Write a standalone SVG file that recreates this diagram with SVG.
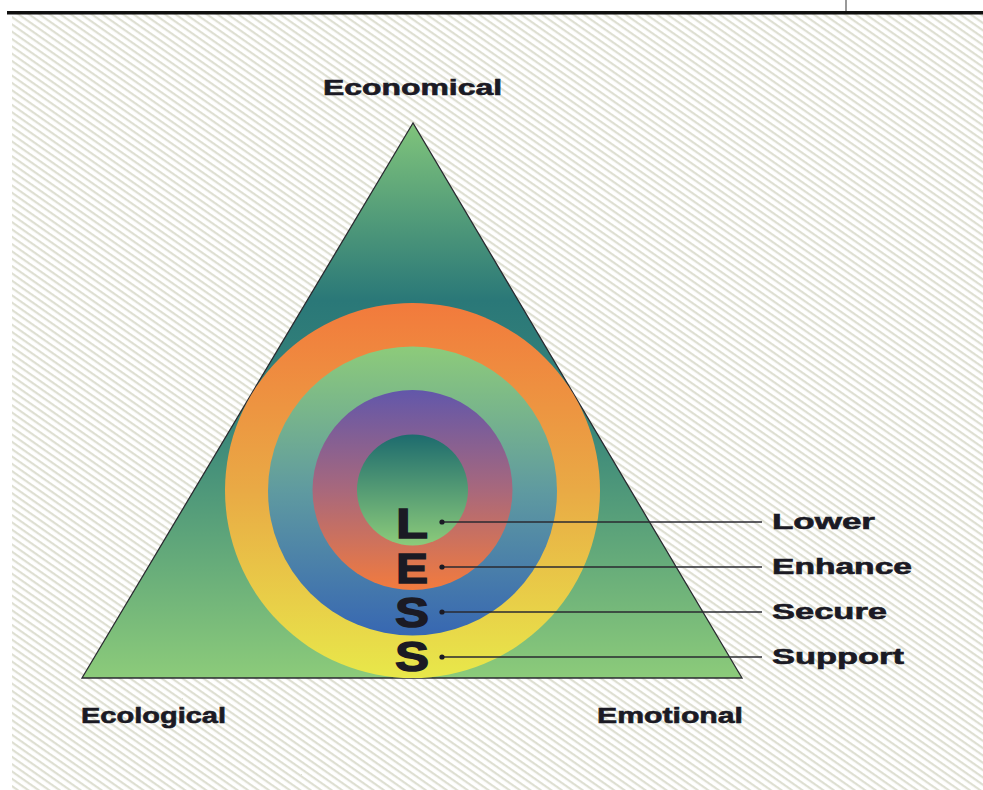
<svg xmlns="http://www.w3.org/2000/svg" width="983" height="790" viewBox="0 0 983 790">
<style>
.lbl{font-family:"Liberation Sans",Arial,sans-serif;font-weight:bold;font-size:22px;fill:#1b1a24;stroke:#1b1a24;stroke-width:0.6}
.big{font-family:"Liberation Sans",Arial,sans-serif;font-weight:bold;font-size:42px;fill:#1b1a24;stroke:#1b1a24;stroke-width:1.4;text-anchor:middle}
.lead{stroke:#2a2a30;stroke-width:1.3;fill:none}
.dot{fill:#1b1a24}
</style>
<defs>
<pattern id="hatch" width="6" height="6" patternUnits="userSpaceOnUse" patternTransform="rotate(35)">
<rect width="6" height="6" fill="#ffffff"/>
<rect x="0" y="0" width="6" height="2.2" fill="#dedfd2"/>
</pattern>
<linearGradient id="gTri" x1="0" y1="123" x2="0" y2="678" gradientUnits="userSpaceOnUse">
<stop offset="0" stop-color="#80c47b"/>
<stop offset="0.32" stop-color="#2a7878"/>
<stop offset="0.55" stop-color="#3a877a"/>
<stop offset="1" stop-color="#8ccb7a"/>
</linearGradient>
<linearGradient id="gR1" x1="0" y1="0" x2="0" y2="1">
<stop offset="0" stop-color="#f27a3c"/>
<stop offset="0.5" stop-color="#e9aa45"/>
<stop offset="1" stop-color="#e8e84a"/>
</linearGradient>
<linearGradient id="gR2" x1="0" y1="0" x2="0" y2="1">
<stop offset="0" stop-color="#8dcb7a"/>
<stop offset="0.5" stop-color="#5f9aa0"/>
<stop offset="1" stop-color="#3767b2"/>
</linearGradient>
<linearGradient id="gR3" x1="0" y1="0" x2="0" y2="1">
<stop offset="0" stop-color="#6257aa"/>
<stop offset="0.5" stop-color="#a8687c"/>
<stop offset="1" stop-color="#f27b3e"/>
</linearGradient>
<linearGradient id="gR4" x1="0" y1="0" x2="0" y2="1">
<stop offset="0" stop-color="#1d6b6e"/>
<stop offset="1" stop-color="#8ccb7a"/>
</linearGradient>
</defs>
<rect x="0" y="0" width="983" height="790" fill="#ffffff"/>
<rect x="12" y="14" width="971" height="776" fill="url(#hatch)"/>
<rect x="7" y="11" width="976" height="3.5" fill="#111111"/>
<line x1="846" y1="0" x2="846" y2="11" stroke="#777777" stroke-width="1.5"/>

<g id="triangle">
<polygon points="413,123 82,678 742,678" fill="url(#gTri)" stroke="#2a2a30" stroke-width="1.3"/>
</g>
<g id="rings">
<circle cx="412.5" cy="490.5" r="187.5" fill="url(#gR1)"/>
<circle cx="412.5" cy="491" r="144.5" fill="url(#gR2)"/>
<circle cx="412.5" cy="490" r="100" fill="url(#gR3)"/>
<circle cx="412.5" cy="490" r="55.5" fill="url(#gR4)"/>
</g>
<g id="less">
<text class="big" x="412" y="538" textLength="32" lengthAdjust="spacingAndGlyphs">L</text>
<text class="big" x="412" y="583" textLength="32" lengthAdjust="spacingAndGlyphs">E</text>
<text class="big" x="412" y="627" textLength="34" lengthAdjust="spacingAndGlyphs">S</text>
<text class="big" x="412" y="671" textLength="34" lengthAdjust="spacingAndGlyphs">S</text>
</g>
<g id="connectors">
<line class="lead" x1="442" y1="522" x2="762" y2="522"/>
<line class="lead" x1="442" y1="567" x2="762" y2="567"/>
<line class="lead" x1="442" y1="612" x2="762" y2="612"/>
<line class="lead" x1="442" y1="657" x2="762" y2="657"/>
<circle class="dot" cx="442" cy="522" r="2.6"/>
<circle class="dot" cx="442" cy="567" r="2.6"/>
<circle class="dot" cx="442" cy="612" r="2.6"/>
<circle class="dot" cx="442" cy="657" r="2.6"/>
</g>
<g id="lower"><text class="lbl" x="772" y="529" textLength="103" lengthAdjust="spacingAndGlyphs">Lower</text></g>
<g id="enhance"><text class="lbl" x="772" y="574" textLength="140" lengthAdjust="spacingAndGlyphs">Enhance</text></g>
<g id="secure"><text class="lbl" x="772" y="619" textLength="115" lengthAdjust="spacingAndGlyphs">Secure</text></g>
<g id="support"><text class="lbl" x="772" y="664" textLength="132" lengthAdjust="spacingAndGlyphs">Support</text></g>
<g id="economical"><text class="lbl" x="323" y="95" textLength="179" lengthAdjust="spacingAndGlyphs">Economical</text></g>
<g id="ecological"><text class="lbl" x="81" y="723" textLength="145" lengthAdjust="spacingAndGlyphs">Ecological</text></g>
<g id="emotional"><text class="lbl" x="597" y="723" textLength="146" lengthAdjust="spacingAndGlyphs">Emotional</text></g>
</svg>
